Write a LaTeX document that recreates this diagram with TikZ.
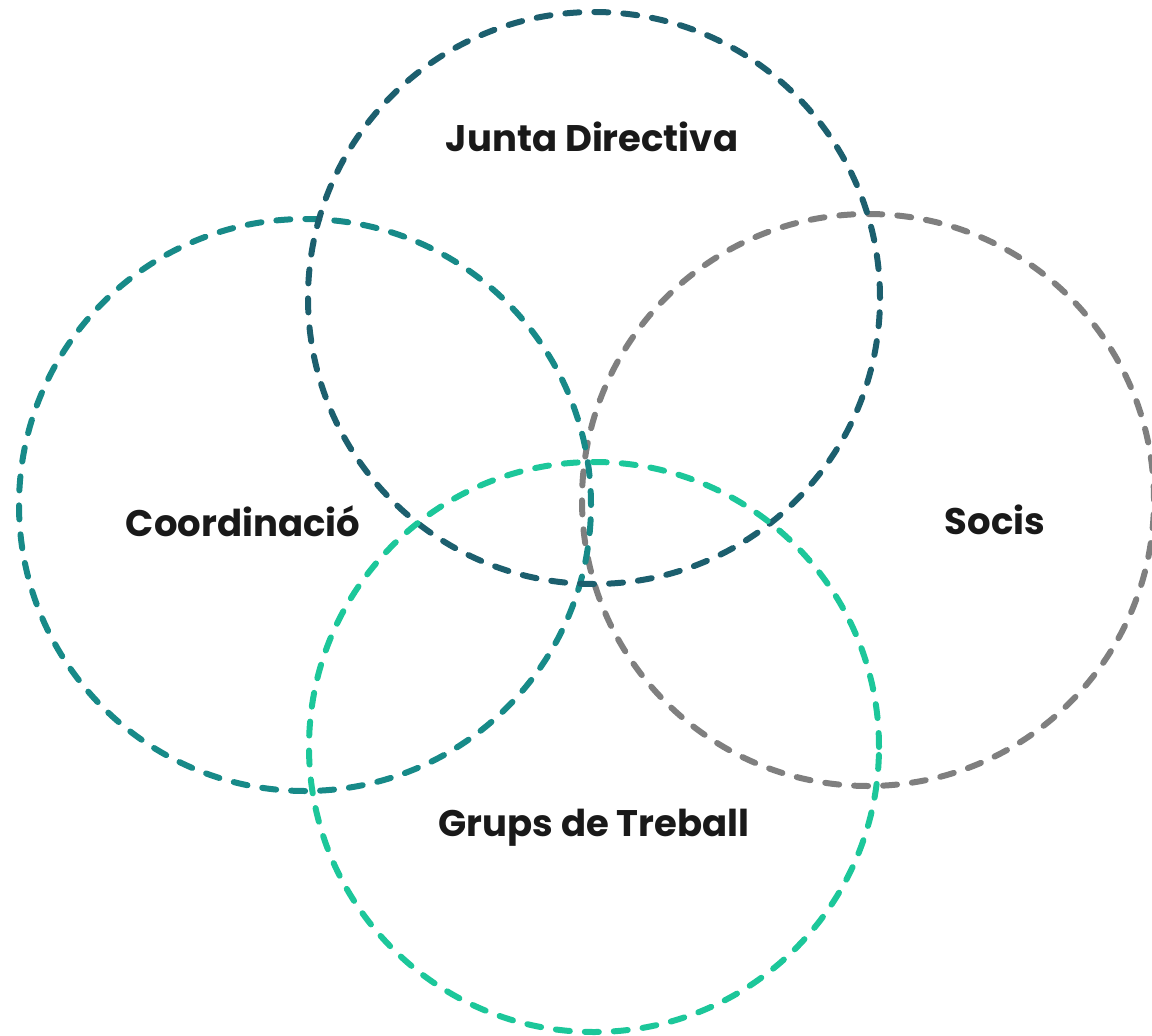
\documentclass[tikz,border=0pt]{standalone}
\usepackage{fontspec}
\setmainfont{Poppins}
\definecolor{juntac}{HTML}{1C5F6E}
\definecolor{coordc}{HTML}{178A88}
\definecolor{grupsc}{HTML}{1CC79A}
\definecolor{socisc}{HTML}{7F7F7F}
\tikzset{
  ring/.style={circle, draw, line width=6pt, dash pattern=on 14pt off 15pt, line cap=round, minimum size=#1, inner sep=0pt},
  lbl/.style={font=\fontsize{37}{44}\selectfont\bfseries, text=black!90}
}
\begin{document}
\begin{tikzpicture}[x=1pt,y=-1pt]
\useasboundingbox (0,0) rectangle (1152,1036);
\clip (0,0) rectangle (1152,1036);
\node[ring=572pt, draw=socisc] (socis) at (868,500) {};
\node[ring=572pt, draw=coordc] (coord) at (305,505) {};
\node[ring=572pt, draw=juntac] (junta) at (594,298) {};
\node[ring=570pt, draw=grupsc] (grups) at (594,747) {};
\node[lbl] (tjunta) at (592,137) {Junta Directiva};
\node[lbl] (tcoord) at (243,521) {Coordinació};
\node[lbl] (tsocis) at (995,520) {Socis};
\node[lbl] (tgrups) at (594,828) {Grups de Treball};
\end{tikzpicture}
\end{document}
